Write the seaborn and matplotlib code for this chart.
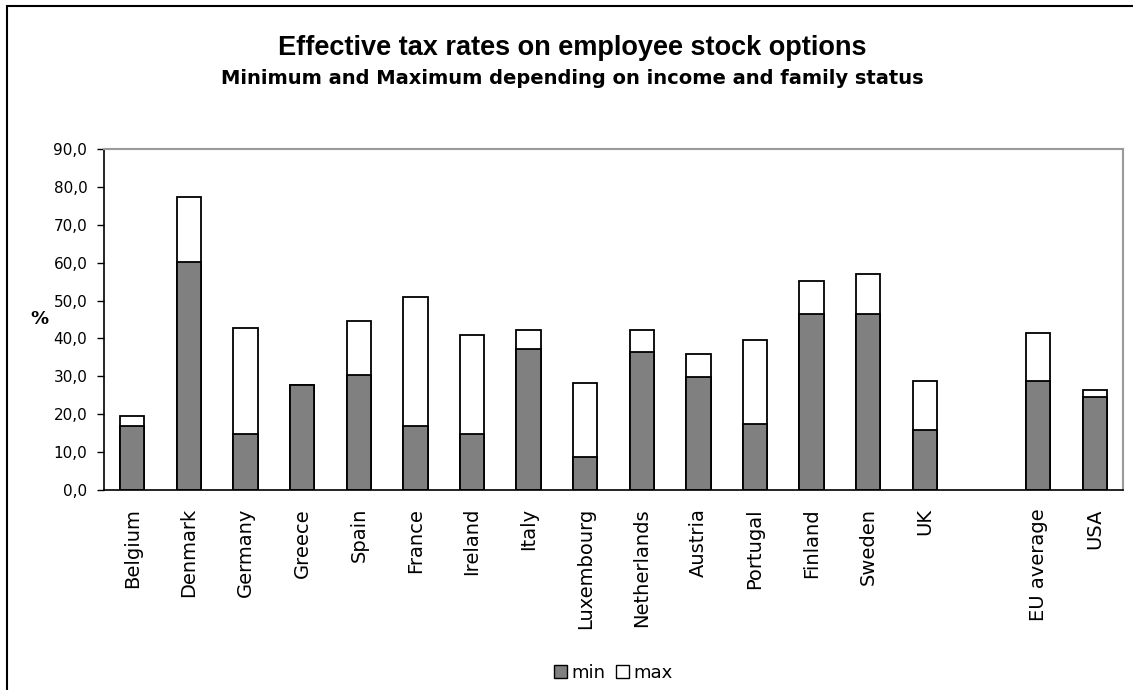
import numpy as np
import pandas as pd
import matplotlib
matplotlib.use("Agg")
import matplotlib.pyplot as plt
from matplotlib.patches import Patch, Rectangle
import seaborn as sns

countries = ["Belgium", "Denmark", "Germany", "Greece", "Spain", "France", "Ireland",
             "Italy", "Luxembourg", "Netherlands", "Austria", "Portugal", "Finland",
             "Sweden", "UK", " ", "EU average", "USA"]
min_vals = [17.0, 60.1, 14.7, 27.8, 30.4, 16.9, 14.7, 37.3, 8.7, 36.5, 29.7, 17.4,
            46.5, 46.5, 15.9, np.nan, 28.7, 24.6]
max_vals = [19.6, 77.4, 42.8, 27.8, 44.6, 51.0, 41.0, 42.3, 28.3, 42.3, 36.0, 39.6,
            55.1, 56.9, 28.8, np.nan, 41.5, 26.5]
yticks = [0, 10, 20, 30, 40, 50, 60, 70, 80, 90]

sns.set_style("white")
plt.rcParams["font.family"] = ["DejaVu Sans"]
plt.rcParams["text.color"] = "black"
plt.rcParams["xtick.color"] = "black"
plt.rcParams["ytick.color"] = "black"
plt.rcParams["axes.labelcolor"] = "black"

df = pd.DataFrame({"country": countries, "min": min_vals, "max": max_vals})

fig = plt.figure(figsize=(11.33, 6.9), dpi=100)
ax = fig.add_axes([104/1133, 1-490/690, (1123-104)/1133, (490-149)/690])

GRAY = "#808080"
sns.barplot(data=df, x="country", y="max", order=countries, color="white",
            saturation=1, width=0.43, edgecolor="black", linewidth=1.3,
            errorbar=None, ax=ax)
sns.barplot(data=df, x="country", y="min", order=countries, color=GRAY,
            saturation=1, width=0.43, edgecolor="black", linewidth=1.3,
            errorbar=None, ax=ax)

ax.set_xlim(-0.5, len(countries) - 0.5)
ax.set_ylim(0, 90)
ax.set_yticks(yticks)
ax.set_yticklabels([f"{v:.1f}".replace(".", ",") for v in yticks], fontsize=11,
                   color="black")
ax.set_xticks(range(len(countries)))
ax.set_xticklabels(countries, rotation=90, fontsize=14, va="top", ha="center",
                   color="black")
ax.set_xticks(np.arange(-0.5, len(countries), 1), minor=True)
ax.tick_params(axis="x", which="major", length=0, pad=13)
ax.tick_params(axis="x", which="minor", length=6, width=1, color="black", direction="out")
ax.tick_params(axis="y", length=5, width=1, color="black", direction="out", pad=7, left=True)
ax.set_xlabel("")
ax.set_ylabel("")

for s in ["left", "bottom"]:
    ax.spines[s].set_color("black")
    ax.spines[s].set_linewidth(1.2)
for s in ["top", "right"]:
    ax.spines[s].set_visible(True)
    ax.spines[s].set_color("#9a9a9a")
    ax.spines[s].set_linewidth(1.5)

fig.text(572/1133, 1-55/690, "Effective tax rates on employee stock options",
         ha="center", va="baseline", fontsize=19.5, fontweight="bold", color="black",
         family=["Liberation Sans", "DejaVu Sans"])
fig.text(572/1133, 1-84/690, "Minimum and Maximum depending on income and family status",
         ha="center", va="baseline", fontsize=14, fontweight="bold", color="black",
         family=["DejaVu Sans"])
fig.text(39.5/1133, 1-318.5/690, "%", ha="center", va="center", fontsize=13,
         fontweight="bold", color="black")

handles = [Patch(facecolor=GRAY, edgecolor="black", linewidth=1.0, label="min"),
           Patch(facecolor="white", edgecolor="black", linewidth=1.0, label="max")]
fig.legend(handles=handles, loc="center", bbox_to_anchor=(613/1133, 1-673/690),
           ncol=2, frameon=False, fontsize=13, handlelength=0.75, handleheight=0.75,
           handletextpad=0.2, columnspacing=0.6, labelcolor="black")

fig.patches.append(Rectangle((7/1133, -0.1), 1.2, 1.1 - 6/690, transform=fig.transFigure,
                             fill=False, edgecolor="black", linewidth=1.5, clip_on=False))

fig.savefig("out.png", dpi=100)
